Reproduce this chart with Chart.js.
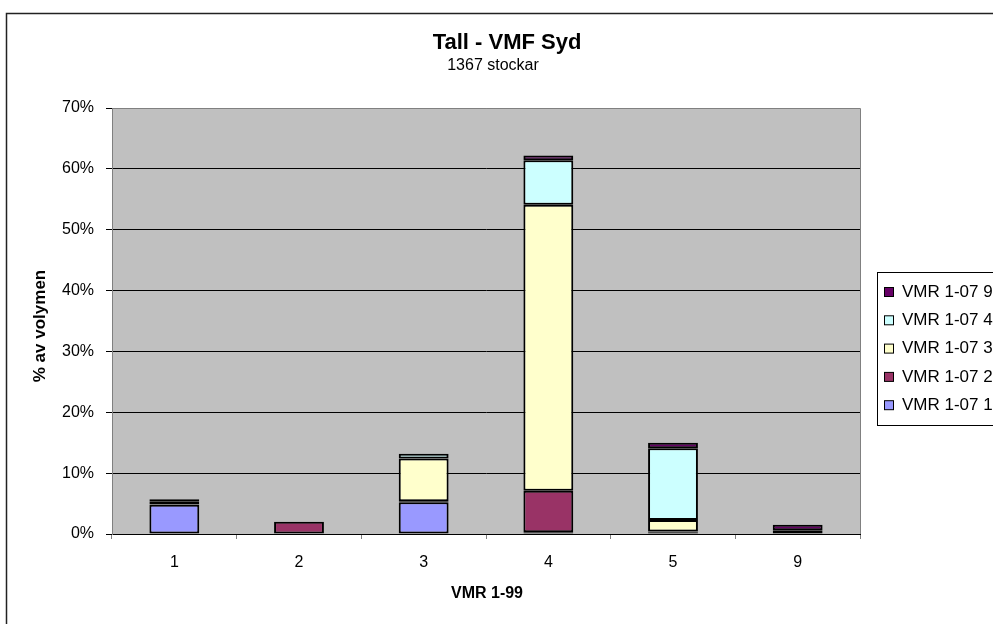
<!DOCTYPE html>
<html>
<head>
<meta charset="utf-8">
<script src="https://cdn.jsdelivr.net/npm/chart.js@4"></script>
<style>
html,body{margin:0;padding:0;background:#fff;}
#c{display:block;}
</style>
</head>
<body>
<canvas id="c" width="993" height="624"></canvas>
<script>
// Data (percent of volume)
const categories = ['1', '2', '3', '4', '5', '9'];
const vmr1 = [4.8, null, 5.2, 0.3, 0.2, null];
const vmr2 = [0.1, 2.0, 0.2, 6.8, 0.2, null];
const vmr3 = [0.5, null, 7.0, 47.0, 1.9, null];
const vmr4 = [0.2, null, 0.8, 7.3, 11.8, 0.6];
const vmr9 = [0.1, null, null, 0.8, 0.9, 0.9];
const seriesNames = ['VMR 1-07 1', 'VMR 1-07 2', 'VMR 1-07 3', 'VMR 1-07 4', 'VMR 1-07 9'];
const seriesColors = ['#9999FF', '#993366', '#FFFFCC', '#CCFFFF', '#660066'];
const yTicks = [0, 10, 20, 30, 40, 50, 60, 70];
const titleText = 'Tall - VMF Syd';
const subtitleText = '1367 stockar';
const xTitle = 'VMR 1-99';
const yTitle = '% av volymen';

const FONT = 'Arial, "Liberation Sans", sans-serif';
const seriesData = [vmr1, vmr2, vmr3, vmr4, vmr9];

const datasets = seriesData.map((d, i) => ({
  label: seriesNames[i],
  data: d,
  backgroundColor: seriesColors[i],
  borderColor: '#000',
  borderWidth: 2,
  borderSkipped: false,
  barPercentage: 0.4,
  categoryPercentage: 1.0,
  stack: 's'
}));

const decor = {
  id: 'decor',
  beforeDraw(chart) {
    const {ctx, chartArea: a} = chart;
    ctx.save();
    ctx.fillStyle = '#fff';
    ctx.fillRect(0, 0, chart.width, chart.height);
    ctx.fillStyle = '#C0C0C0';
    ctx.fillRect(a.left, a.top, a.right - a.left, a.bottom - a.top);
    ctx.restore();
  },
  beforeDatasetsDraw(chart) {
    const {ctx, chartArea: a} = chart;
    ctx.save();
    ctx.strokeStyle = '#808080';
    ctx.lineWidth = 1;
    ctx.beginPath();
    ctx.moveTo(a.left, a.top + 0.5);
    ctx.lineTo(a.right + 0.5, a.top + 0.5);
    ctx.lineTo(a.right + 0.5, a.bottom);
    ctx.stroke();
    ctx.restore();
  },
  afterDraw(chart) {
    const {ctx, chartArea: a} = chart;
    ctx.save();
    // outer border
    ctx.strokeStyle = '#222';
    ctx.lineWidth = 1.5;
    ctx.strokeRect(6.5, 13.5, 1200, 1200);
    // titles
    ctx.fillStyle = '#000';
    ctx.textAlign = 'center';
    ctx.textBaseline = 'middle';
    ctx.font = 'bold 22px ' + FONT;
    ctx.fillText(titleText, 507, 43);
    ctx.font = '16px ' + FONT;
    ctx.fillText(subtitleText, 493, 66);
    ctx.font = 'bold 16px ' + FONT;
    ctx.fillText(xTitle, 487, 594);
    ctx.save();
    ctx.translate(40, 326);
    ctx.rotate(-Math.PI / 2);
    ctx.font = 'bold 17px ' + FONT;
    ctx.fillText(yTitle, 0, 0);
    ctx.restore();
    // legend
    const lx = 877.5, ly = 272.5;
    ctx.fillStyle = '#fff';
    ctx.fillRect(lx, ly, 200, 153);
    ctx.strokeStyle = '#000';
    ctx.lineWidth = 1;
    ctx.strokeRect(lx, ly, 200, 153);
    ctx.font = '17px ' + FONT;
    ctx.textAlign = 'left';
    const ds = chart.data.datasets;
    for (let k = 0; k < ds.length; k++) {
      const d = ds[ds.length - 1 - k];
      const cy = 292 + k * 28.3;
      ctx.fillStyle = d.backgroundColor;
      ctx.fillRect(884.5, cy - 4.5, 9, 9);
      ctx.strokeStyle = '#000';
      ctx.strokeRect(884.5, cy - 4.5, 9, 9);
      ctx.fillStyle = '#000';
      ctx.fillText(d.label, 902, cy);
    }
    ctx.restore();
  }
};

new Chart(document.getElementById('c'), {
  type: 'bar',
  data: { labels: categories, datasets },
  options: {
    responsive: false,
    animation: false,
    events: [],
    layout: { padding: { top: 108, right: 133, left: 0, bottom: 0 } },
    plugins: { legend: { display: false }, title: { display: false }, tooltip: { enabled: false } },
    scales: {
      x: {
        stacked: true,
        afterFit: s => { s.height = 90; },
        grid: { display: true, drawOnChartArea: false, offset: true, tickLength: 5, tickColor: '#808080' },
        border: { display: true, color: '#000', width: 1 },
        ticks: { color: '#000', font: { family: FONT, size: 16 }, padding: 14, maxRotation: 0 }
      },
      y: {
        stacked: true,
        min: 0, max: 70,
        afterFit: s => { s.width = 112; },
        afterBuildTicks: s => { s.ticks = yTicks.map(v => ({ value: v })); },
        grid: {
          color: c => (c.tick && c.tick.value === 70) ? '#808080' : '#000',
          tickColor: '#000', tickLength: 6, lineWidth: 1
        },
        border: { display: true, color: '#808080', width: 1 },
        ticks: { color: '#000', font: { family: FONT, size: 16 }, padding: 12, callback: v => v + '%' }
      }
    }
  },
  plugins: [decor]
});
</script>
</body>
</html>
